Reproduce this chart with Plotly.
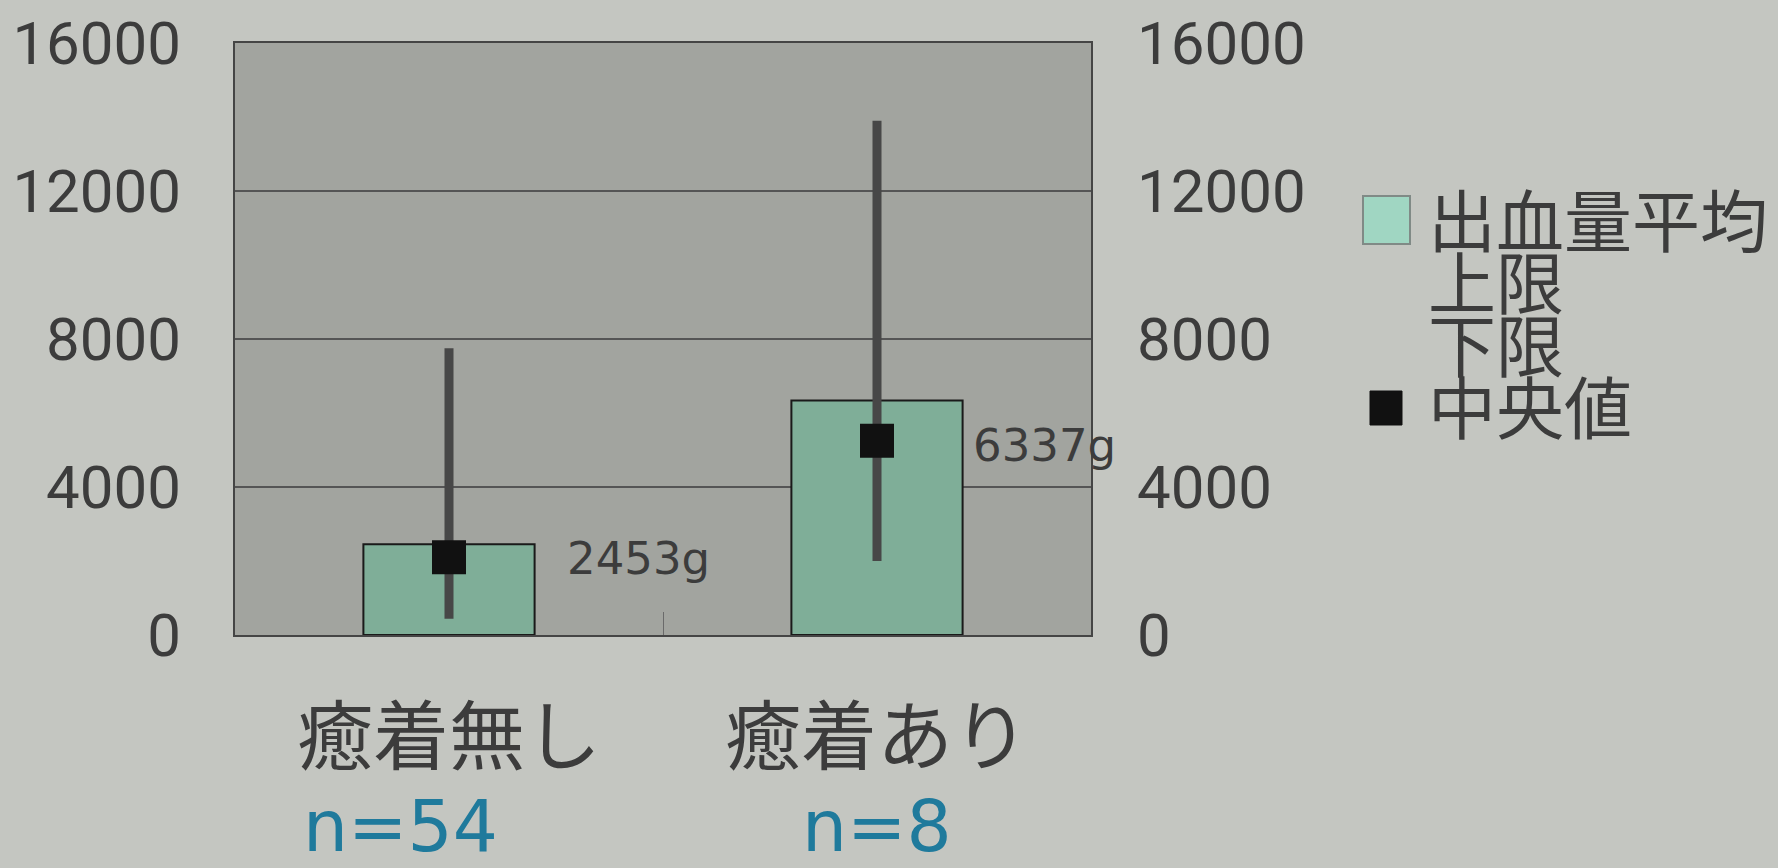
import plotly.graph_objects as go

# ---------------- data ----------------
categories = ['癒着無し', '癒着あり']
mean_values = [2453, 6337]
median_values = [2100, 5250]
upper_limits = [7750, 13900]
lower_limits = [440, 2000]
mean_labels = ['2453g', '6337g']
n_labels = ['n=54', 'n=8']
y_ticks = [0, 4000, 8000, 12000, 16000]
legend_names = ['出血量平均', '上限', '下限', '中央値']

# ---------------- style / layout ----------------
W, H = 1778, 868
PL, PR, PT, PB = 235, 1091, 43, 635   # plot area in px
FONT = 'Noto Sans CJK JP'
LATIN = 'DejaVu Sans'
DIGITS = 'Roboto'
PAPER_BG = '#c4c6c1'
PLOT_BG = '#a2a49f'
BAR_COLOR = '#7fae98'
LINE_COLOR = '#474747'
TEXT_COLOR = '#3c3c3c'
N_COLOR = '#1f7a9c'


def px_x(px):
    return (px - PL) / (PR - PL)


def px_y(py):
    return (PB - py) / (PB - PT)


fig = go.Figure()

fig.add_trace(go.Bar(
    x=categories, y=mean_values, name=legend_names[0],
    marker=dict(color=BAR_COLOR, line=dict(color='#1a1a1a', width=2)),
    showlegend=False,
))

err_plus = [u - m for u, m in zip(upper_limits, median_values)]
err_minus = [m - l for m, l in zip(median_values, lower_limits)]

fig.add_trace(go.Scatter(
    x=categories, y=median_values, name=legend_names[3], mode='markers',
    marker=dict(symbol='square', size=34, color='#111111'),
    error_y=dict(type='data', symmetric=False, array=err_plus,
                 arrayminus=err_minus, thickness=9, width=0,
                 color=LINE_COLOR),
    showlegend=False,
))

# invisible trace carrying the right-hand axis
fig.add_trace(go.Scatter(
    x=categories, y=mean_values, yaxis='y2', mode='markers',
    marker=dict(opacity=0, size=1), hoverinfo='skip', showlegend=False,
))

annotations = []
label_xshift = [116, 94]
label_yshift = [-1, -5]
for i, c in enumerate(categories):
    annotations.append(dict(
        x=c, y=median_values[i], xref='x', yref='y', text=mean_labels[i],
        showarrow=False, xanchor='left', yanchor='middle',
        xshift=label_xshift[i], yshift=label_yshift[i],
        font=dict(family=LATIN, size=45, color=TEXT_COLOR),
    ))

n_xshift = [-49, 0]
for i, c in enumerate(categories):
    annotations.append(dict(
        x=c, y=px_y(826), xref='x', yref='paper', text=n_labels[i],
        showarrow=False, xanchor='center', yanchor='middle',
        xshift=n_xshift[i],
        font=dict(family=LATIN, size=71, color=N_COLOR),
    ))

# custom legend: one text block with tight line spacing (as in the slide)
legend_text = '<br>'.join(
    f'<span style="font-size:68px">{name}</span>' for name in legend_names)
annotations.append(dict(
    x=px_x(1426), y=px_y(311), xref='paper', yref='paper', text=legend_text,
    showarrow=False, xanchor='left', yanchor='middle', align='left',
    font=dict(family=FONT, size=48, color=TEXT_COLOR),
))

shapes = [
    dict(type='rect', xref='paper', yref='paper',
         x0=px_x(1363), x1=px_x(1410), y0=px_y(244), y1=px_y(196),
         fillcolor='#a0d6c2', line=dict(color='#808a86', width=2)),
    dict(type='rect', xref='paper', yref='paper',
         x0=px_x(1370), x1=px_x(1402), y0=px_y(425), y1=px_y(391),
         fillcolor='#111111', line=dict(color='#111111', width=1)),
]

fig.update_layout(
    width=W, height=H,
    margin=dict(l=PL, r=W - PR, t=PT, b=H - PB, pad=0, autoexpand=False),
    paper_bgcolor=PAPER_BG, plot_bgcolor=PLOT_BG,
    bargap=0.6,
    font=dict(family=FONT, color=TEXT_COLOR),
    xaxis=dict(
        type='category', range=[-0.5, 1.5], showgrid=False, automargin=False,
        showline=True, mirror=True, linecolor='#454545', linewidth=2,
        ticks='inside', tickson='boundaries', ticklen=23,
        tickcolor='#6a6a6a', tickwidth=1,
        tickfont=dict(family=FONT, size=76, color=TEXT_COLOR),
        ticklabelstandoff=36,
    ),
    yaxis=dict(
        range=[0, 16000], tickvals=y_ticks, ticktext=[str(v) for v in y_ticks],
        showgrid=True, gridcolor='#555555', gridwidth=1.5, automargin=False,
        showline=True, mirror=True, linecolor='#454545', linewidth=2,
        zeroline=False, ticks='', ticklabeloverflow='allow',
        tickfont=dict(family=DIGITS, size=60, color=TEXT_COLOR),
        ticklabelstandoff=40,
    ),
    yaxis2=dict(
        overlaying='y', side='right', matches='y', range=[0, 16000],
        tickvals=y_ticks, ticktext=[str(v) for v in y_ticks], automargin=False,
        showgrid=False, zeroline=False, showline=False, ticks='',
        ticklabeloverflow='allow',
        tickfont=dict(family=DIGITS, size=60, color=TEXT_COLOR),
        ticklabelstandoff=45,
    ),
    annotations=annotations,
    shapes=shapes,
    showlegend=False,
)

fig.write_html('out.html')
